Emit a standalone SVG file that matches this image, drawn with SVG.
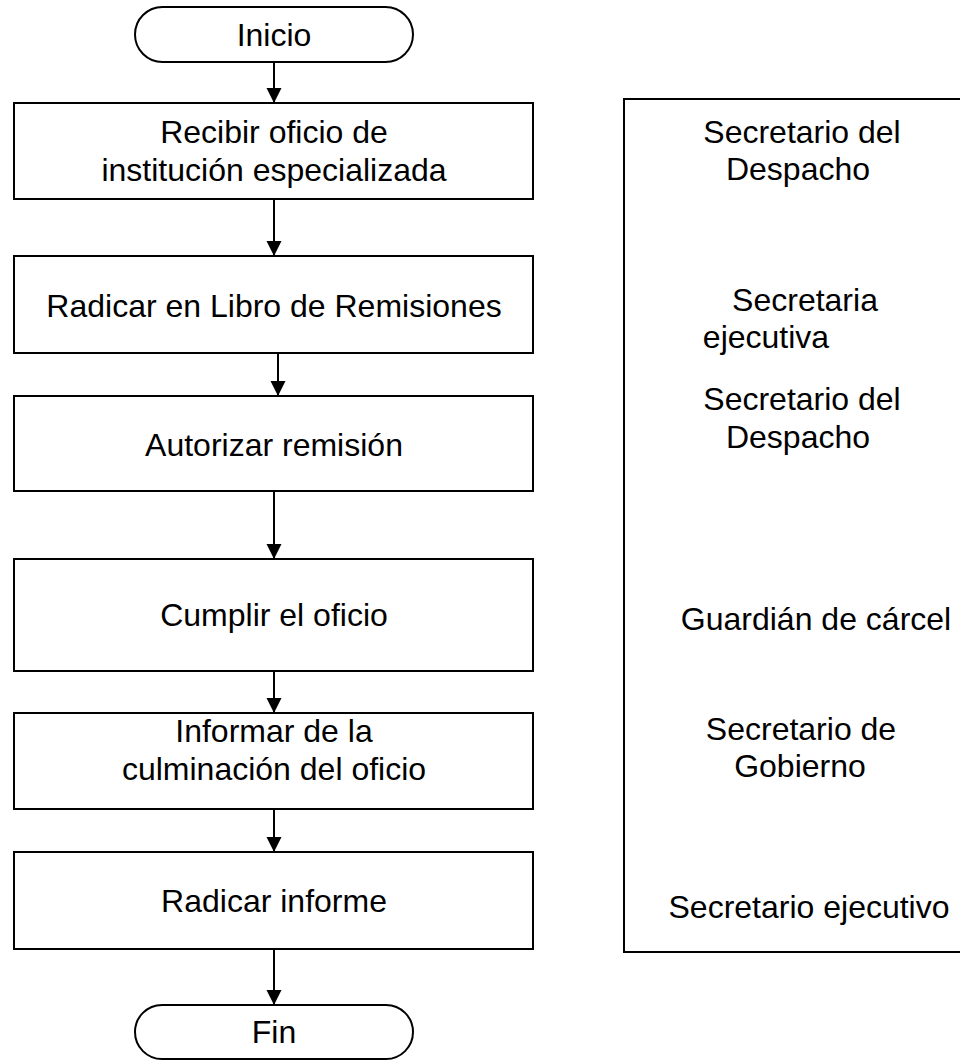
<svg xmlns="http://www.w3.org/2000/svg" width="960" height="1062" viewBox="0 0 960 1062">
<style>
.box{fill:#fff;stroke:#000;stroke-width:2}
.t{font-family:"Liberation Sans",Arial,sans-serif;font-size:32px;fill:#000;text-anchor:middle}
.c{stroke:#000;stroke-width:2;fill:none;marker-end:url(#ah)}
</style>
<defs>
<marker id="ah" markerUnits="userSpaceOnUse" markerWidth="16" markerHeight="16" refX="15" refY="7.5" orient="auto">
<path d="M0,0 L15,7.5 L0,15 Z" fill="#000"/>
</marker>
</defs>
<rect width="960" height="1062" fill="#fff"/>
<g id="connectors">
<line class="c" x1="274" y1="62" x2="274" y2="103"/>
<line class="c" x1="274" y1="199" x2="274" y2="256"/>
<line class="c" x1="278" y1="353" x2="278" y2="396"/>
<line class="c" x1="274" y1="491" x2="274" y2="559"/>
<line class="c" x1="274" y1="671" x2="274" y2="713"/>
<line class="c" x1="274" y1="809" x2="274" y2="852"/>
<line class="c" x1="274" y1="949" x2="274" y2="1005"/>
</g>
<g id="inicio">
<rect class="box" x="135" y="7" width="278" height="55" rx="27.5"/>
<text class="t" x="274" y="46">Inicio</text>
</g>
<g id="recibir">
<rect class="box" x="14" y="103" width="519" height="96"/>
<text class="t" x="274" y="143">Recibir oficio de</text>
<text class="t" x="274" y="181">institución especializada</text>
</g>
<g id="radicar-libro">
<rect class="box" x="14" y="256" width="519" height="97"/>
<text class="t" x="274" y="317">Radicar en Libro de Remisiones</text>
</g>
<g id="autorizar">
<rect class="box" x="14" y="396" width="519" height="95"/>
<text class="t" x="274" y="456">Autorizar remisión</text>
</g>
<g id="cumplir">
<rect class="box" x="14" y="559" width="519" height="112"/>
<text class="t" x="274" y="626">Cumplir el oficio</text>
</g>
<g id="informar">
<rect class="box" x="14" y="713" width="519" height="96"/>
<text class="t" x="274" y="742">Informar de la</text>
<text class="t" x="274" y="780">culminación del oficio</text>
</g>
<g id="radicar-informe">
<rect class="box" x="14" y="852" width="519" height="97"/>
<text class="t" x="274" y="912">Radicar informe</text>
</g>
<g id="fin">
<rect class="box" x="135" y="1005" width="278" height="54" rx="27"/>
<text class="t" x="274" y="1043">Fin</text>
</g>
<g id="responsables">
<rect class="box" x="624" y="99" width="340" height="853"/>
<text class="t" x="802" y="143">Secretario del</text>
<text class="t" x="798" y="180">Despacho</text>
<text class="t" x="805" y="311">Secretaria</text>
<text class="t" x="766" y="348">ejecutiva</text>
<text class="t" x="802" y="410">Secretario del</text>
<text class="t" x="798" y="448">Despacho</text>
<text class="t" x="816" y="630">Guardián de cárcel</text>
<text class="t" x="801" y="740">Secretario de</text>
<text class="t" x="800" y="777">Gobierno</text>
<text class="t" x="809" y="918">Secretario ejecutivo</text>
</g>
</svg>
